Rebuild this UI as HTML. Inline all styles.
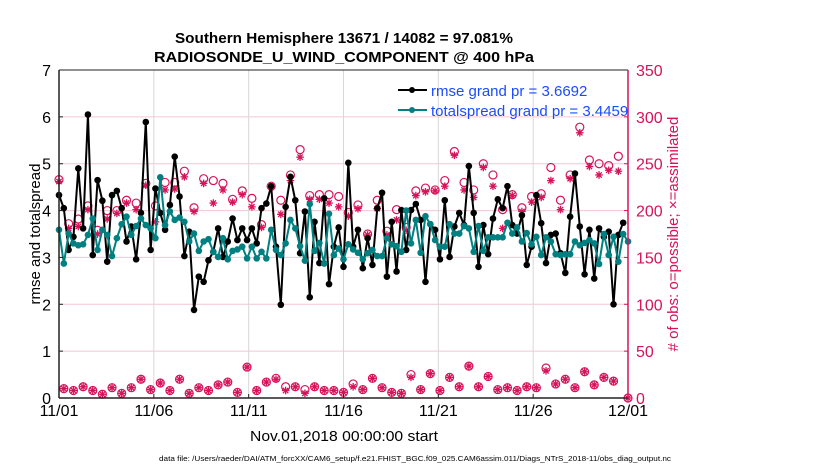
<!DOCTYPE html>
<html><head><meta charset="utf-8"><style>
html,body{margin:0;padding:0;background:#fff;}
svg text{font-family:"Liberation Sans",sans-serif;}
</style></head><body>
<svg id="chart" width="830" height="470" xmlns="http://www.w3.org/2000/svg">
<g id="grid"></g>
<g id="obs"></g>
<g id="series"></g>
<g id="axes"></g>
<text x="344" y="43" text-anchor="middle" font-size="15" font-weight="bold" textLength="338" lengthAdjust="spacingAndGlyphs">Southern Hemisphere 13671 / 14082 = 97.081%</text>
<text x="344" y="62" text-anchor="middle" font-size="15" font-weight="bold" textLength="380" lengthAdjust="spacingAndGlyphs">RADIOSONDE_U_WIND_COMPONENT @ 400 hPa</text>
<text transform="translate(40,234) rotate(-90)" text-anchor="middle" font-size="15">rmse and totalspread</text>
<text transform="translate(678,234) rotate(-90)" text-anchor="middle" font-size="15" fill="#d6135a">#  of obs: o=possible; ×=assimilated</text>
<text x="344" y="441" text-anchor="middle" font-size="15" textLength="188" lengthAdjust="spacingAndGlyphs">Nov.01,2018 00:00:00 start</text>
<text x="415" y="461" text-anchor="middle" font-size="7.5" textLength="512" lengthAdjust="spacingAndGlyphs">data file: /Users/raeder/DAI/ATM_forcXX/CAM6_setup/f.e21.FHIST_BGC.f09_025.CAM6assim.011/Diags_NTrS_2018-11/obs_diag_output.nc</text>
<g>
<line x1="398" y1="90" x2="427" y2="90" stroke="#000" stroke-width="2"/>
<circle cx="412" cy="90" r="3" fill="#000"/>
<text x="431" y="96" font-size="15" fill="#1a4cff">rmse grand pr = 3.6692</text>
<line x1="398" y1="110" x2="427" y2="110" stroke="#008080" stroke-width="2"/>
<circle cx="412" cy="110" r="3" fill="#008080"/>
<text x="431" y="116" font-size="15" fill="#1a4cff">totalspread grand pr = 3.4459</text>
</g>
</svg>
<script>
const dateLabels=["11/01","11/06","11/11","11/16","11/21","11/26","12/01"];
const leftTicks=[0,1,2,3,4,5,6,7];
const rightTicks=[0,50,100,150,200,250,300,350];
const rmse=[4.33,4.05,3.16,3.44,4.90,3.62,6.05,3.05,4.65,4.21,2.91,4.33,4.42,4.05,3.34,3.66,2.96,3.95,5.89,3.16,4.47,3.95,3.59,4.12,5.15,4.30,3.03,3.55,1.88,2.59,2.48,2.94,3.12,3.62,3.01,3.34,3.83,3.37,3.62,
3.37,3.62,3.30,4.05,4.15,4.52,3.23,1.99,4.08,4.72,4.22,3.09,3.98,2.15,3.76,2.88,4.26,2.43,3.23,3.64,2.80,5.02,3.23,3.59,2.77,3.41,2.84,4.05,4.38,2.59,3.76,2.70,4.01,3.16,4.01,4.14,3.80,2.48,3.71,3.59,
2.96,4.22,3.01,3.66,3.95,3.69,4.95,3.95,2.80,3.69,3.07,3.83,4.24,4.05,4.52,3.69,3.51,3.90,2.84,3.23,4.33,3.73,2.88,3.48,3.51,3.09,2.67,3.87,4.79,3.66,2.64,3.59,2.55,3.62,3.44,3.55,2.00,3.48,3.74];
const spread=[3.59,2.87,3.51,3.30,3.26,3.28,3.48,3.83,3.16,3.59,3.48,3.03,3.41,3.71,3.87,3.48,3.67,3.83,3.69,3.62,3.41,4.71,3.69,3.98,3.80,3.85,3.76,3.34,3.51,3.14,3.34,3.39,3.12,3.01,3.41,2.96,3.14,3.17,3.23,
2.98,3.23,2.98,3.12,2.98,3.59,3.16,3.05,3.30,3.80,3.62,3.24,2.93,4.14,3.14,3.31,2.87,3.93,3.05,3.19,2.96,3.28,3.17,3.10,2.96,3.09,3.16,3.03,3.03,3.41,3.28,3.24,3.12,4.00,3.30,3.80,3.10,3.88,3.71,3.37,3.23,
3.23,3.71,3.51,3.51,3.67,3.62,3.12,3.67,3.14,3.43,3.43,3.43,3.43,3.74,3.51,3.64,3.34,3.52,3.28,3.44,3.05,3.43,3.34,3.07,3.05,3.07,3.07,3.34,3.26,3.31,3.37,3.30,2.86,3.50,3.05,3.44,2.91,3.50,3.34];
const possibleHigh=[233,186,191,205,179,200,200,211,208,229,205,230,230,242,203,234,232,229,212,221,
213,185,226,211,238,265,216,217,217,215,198,206,175,211,178,201,182,221,224,
222,232,263,230,222,250,238,201,217,203,215,218,246,211,238,289,254,250,248,258];
const assimHigh=[231,181,183,201,175,191,197,208,201,227,188,222,223,236,199,229,208,222,209,217,
204,182,225,196,232,257,212,212,208,204,194,202,174,202,174,190,179,216,220,
221,226,259,222,214,246,226,181,216,199,209,214,232,201,234,283,247,238,243,242];
const possibleLow=[10,8,12,8,4,11,5,11,20,9,16,8,20,5,11,8,14,17,6,33,8,17,21,12,12,9,12,8,8,
6,15,9,21,11,6,5,25,9,26,8,22,12,34,12,23,9,11,8,12,11,32,15,20,11,28,14,22,18];
const assimLow=[10,8,12,8,4,11,5,11,20,9,16,8,20,5,11,8,14,17,6,33,8,17,20,8,12,5,12,8,8,
6,12,9,21,11,6,5,22,9,26,8,22,12,34,12,23,9,11,8,12,11,29,15,20,11,28,14,22,18];

const NS="http://www.w3.org/2000/svg";
const X0=59,X1=628,Y0=398,Y1=70;
const xDay=d=>X0+(X1-X0)*d/30;
const yL=v=>Y0-(Y0-Y1)*v/7;
const yR=v=>Y0-(Y0-Y1)*v/350;
const idxDay=i=>i*30/rmse.length;
function mk(tag,attrs,parent){const e=document.createElementNS(NS,tag);for(const k in attrs)e.setAttribute(k,attrs[k]);parent.appendChild(e);return e;}
const grid=document.getElementById('grid'),axes=document.getElementById('axes'),ser=document.getElementById('series'),obs=document.getElementById('obs');
leftTicks.forEach((t,i)=>{
  if(i>0&&i<leftTicks.length-1){const g=mk('line',{x1:X0,x2:X1,y1:yL(t),y2:yL(t),stroke:'#f2c6d6','stroke-width':1},grid);
  
  }
  const tx=mk('text',{x:X0-8,y:yL(t)+6,'text-anchor':'end','font-size':16},axes);tx.textContent=t;
  
  
});
rightTicks.forEach(t=>{
  const tx=mk('text',{x:X1+8,y:yR(t)+6,'font-size':16,fill:'#d6135a'},axes);tx.textContent=t;
  
  
  mk('line',{x1:X1-4,x2:X1,y1:yR(t),y2:yR(t),stroke:'#d6135a'},axes);
  mk('line',{x1:X0,x2:X0+4,y1:yL(t*7/350),y2:yL(t*7/350),stroke:'#222'},axes);
});
dateLabels.forEach((l,i)=>{
  const x=xDay(i*5);
  if(i>0&&i<dateLabels.length-1){const g=mk('line',{x1:x,x2:x,y1:Y1,y2:Y0,stroke:'#d8d8d8'},grid);
  
  }
  mk('line',{x1:x,x2:x,y1:Y0,y2:Y0-4,stroke:'#222'},axes);
  const tx=mk('text',{x:x,y:416,'text-anchor':'middle','font-size':16},axes);tx.textContent=l;
  
  
});
mk('line',{x1:X0,x2:X1,y1:Y1,y2:Y1,stroke:'#222'},axes);
mk('line',{x1:X0,x2:X1,y1:Y0,y2:Y0,stroke:'#222','stroke-width':1.5},axes);
mk('line',{x1:X0,x2:X0,y1:Y1,y2:Y0,stroke:'#222','stroke-width':1.5},axes);
mk('line',{x1:X1,x2:X1,y1:Y1,y2:Y0,stroke:'#d6135a','stroke-width':1.5},axes);
const MAG='#d6135a';
function star(x,y,parent){
  const g=mk('g',{stroke:MAG,'stroke-width':1.3},parent);
  
  
  for(let a=0;a<4;a++){const an=a*Math.PI/4,dx=3.8*Math.cos(an),dy=3.8*Math.sin(an);mk('line',{x1:x-dx,y1:y-dy,x2:x+dx,y2:y+dy},g);}
}
function obsPoint(i,p,a){
  const x=xDay(idxDay(i));
  const c=mk('circle',{cx:x,cy:yR(p),r:4,fill:'none',stroke:MAG,'stroke-width':1.2},obs);
  
  
  star(x,yR(a),obs);
}
possibleHigh.forEach((p,k)=>obsPoint(2*k,p,assimHigh[k]));
possibleLow.forEach((p,k)=>obsPoint(2*k+1,p,assimLow[k]));
obsPoint(rmse.length,0,0);
function line(vals,color,name){
  const pts=vals.map((v,i)=>xDay(idxDay(i))+','+yL(v)).join(' ');
  const pl=mk('polyline',{points:pts,fill:'none',stroke:color,'stroke-width':2,'stroke-linejoin':'round'},ser);
  
  
  vals.forEach((v,i)=>{const c=mk('circle',{cx:xDay(idxDay(i)),cy:yL(v),r:3.3,fill:color},ser);
    
    });
}
line(rmse,'#000','rmse');
line(spread,'#008080','totalspread');
</script>
</body></html>
